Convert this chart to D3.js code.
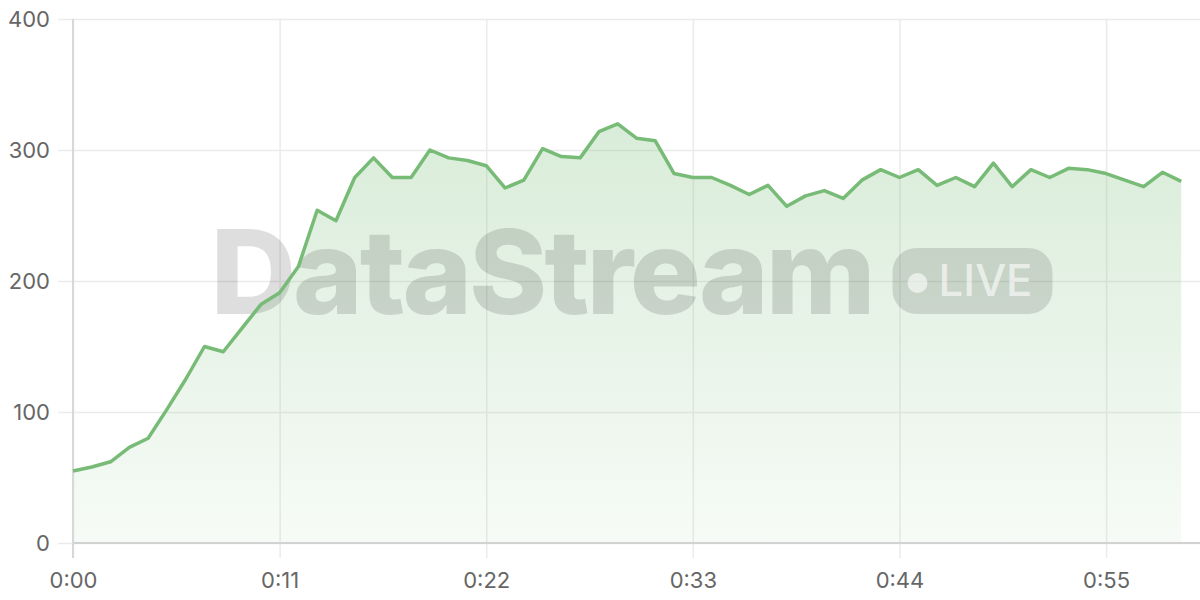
<!DOCTYPE html>
<html>
<head>
<meta charset="utf-8">
<script src="https://cdn.jsdelivr.net/npm/d3@7"></script>
<style>
  html, body { margin: 0; padding: 0; background: #fff; }
  #chart { width: 1200px; height: 600px; }
  .axis text { font-family: Inter, "Open Sans", sans-serif; font-size: 22px; fill: #666; }
</style>
</head>
<body>
<div id="chart"></div>
<script>
// Minutes elapsed and the measured value at each minute
const minutes = d3.range(0, 60);
const values = [
    55, 58, 62, 73, 80, 102, 125, 150, 146, 164,
    182, 191, 211, 254, 246, 279, 294, 279, 279, 300,
    294, 292, 288, 271, 277, 301, 295, 294, 314, 320,
    309, 307, 282, 279, 279, 273, 266, 273, 257, 265,
    269, 263, 277, 285, 279, 285, 273, 279, 272, 290,
    272, 285, 279, 286, 285, 282, 277, 272, 283, 276
];
const xTicks = [0, 11, 22, 33, 44, 55];
const yTicks = [0, 100, 200, 300, 400];

const W = 1200, H = 600;
const margin = {top: 19, right: 0, bottom: 57, left: 73};

const svg = d3.select('#chart')
    .append('svg')
    .attr('width', W)
    .attr('height', H);

const xScale = d3.scaleLinear()
    .domain([0, 60])
    .range([margin.left, W - margin.right]);

const yScale = d3.scaleLinear()
    .domain([0, 400])
    .range([H - margin.bottom, margin.top]);

const data = minutes.map((m, i) => ({m: m, v: values[i]}));

// Gradient for the area
const defs = svg.append('defs');
const grad = defs.append('linearGradient')
    .attr('id', 'fillGrad')
    .attr('x1', 0).attr('y1', 0).attr('x2', 0).attr('y2', 1);
grad.append('stop').attr('offset', '0%').attr('stop-color', '#77bb77').attr('stop-opacity', 0.28);
grad.append('stop').attr('offset', '100%').attr('stop-color', '#77bb77').attr('stop-opacity', 0.06);

// Horizontal grid + y labels
svg.append('g')
    .attr('class', 'axis')
    .attr('transform', `translate(${margin.left - 15},0)`)
    .call(d3.axisLeft(yScale)
        .tickValues(yTicks)
        .tickSize(-(W - margin.left + 15))
        .tickPadding(8))
    .call(g => g.select('.domain').remove())
    .call(g => g.selectAll('.tick line').attr('stroke', '#ebebeb').attr('stroke-width', 1.5));

// Vertical grid + x labels
svg.append('g')
    .attr('class', 'axis')
    .attr('transform', `translate(0,${margin.top})`)
    .call(d3.axisBottom(xScale)
        .tickValues(xTicks)
        .tickSize(H - margin.bottom - margin.top + 15)
        .tickPadding(14)
        .tickFormat(d => `0:${String(d).padStart(2, '0')}`))
    .call(g => g.select('.domain').remove())
    .call(g => g.selectAll('.tick line').attr('stroke', '#ebebeb').attr('stroke-width', 1.5));

// Area and line
const area = d3.area()
    .x(d => xScale(d.m))
    .y0(yScale(0))
    .y1(d => yScale(d.v));

const line = d3.line()
    .x(d => xScale(d.m))
    .y(d => yScale(d.v));

svg.append('path')
    .datum(data)
    .attr('d', area)
    .attr('fill', 'url(#fillGrad)');

// Axis lines
svg.append('line')
    .attr('x1', xScale(0)).attr('x2', W)
    .attr('y1', yScale(0)).attr('y2', yScale(0))
    .attr('stroke', '#d2d2d2').attr('stroke-width', 2);
svg.append('line')
    .attr('x1', xScale(0)).attr('x2', xScale(0))
    .attr('y1', yScale(400)).attr('y2', yScale(0) + 15)
    .attr('stroke', '#d8d8d8').attr('stroke-width', 2);

// Watermark
const cx = (xScale(0) + W) / 2 - 5;
const cy = (yScale(0) + yScale(400)) / 2;
const wm = svg.append('g').attr('pointer-events', 'none');

wm.append('text')
    .attr('x', cx - 421)
    .attr('y', cy + 33)
    .attr('textLength', 662)
    .attr('lengthAdjust', 'spacingAndGlyphs')
    .style('font-family', 'Inter, "Open Sans", sans-serif')
    .style('font-weight', 800)
    .style('font-size', '117px')
    .style('letter-spacing', '-3px')
    .attr('fill', 'rgba(0,0,0,0.13)')
    .text('DataStream');

const badge = wm.append('g').attr('transform', `translate(${cx + 261},${cy - 33})`);
badge.append('rect')
    .attr('width', 160).attr('height', 66)
    .attr('rx', 24).attr('ry', 24)
    .attr('fill', 'rgba(0,0,0,0.12)');
badge.append('circle')
    .attr('cx', 25).attr('cy', 35).attr('r', 10)
    .attr('fill', 'rgba(255,255,255,0.6)');
badge.append('text')
    .attr('x', 46).attr('y', 48)
    .attr('textLength', 94)
    .attr('lengthAdjust', 'spacingAndGlyphs')
    .style('font-family', 'Inter, "Open Sans", sans-serif')
    .style('font-weight', 500)
    .style('font-size', '44px')
    .attr('fill', 'rgba(255,255,255,0.6)')
    .text('LIVE');

svg.append('path')
    .datum(data)
    .attr('d', line)
    .attr('fill', 'none')
    .attr('stroke', '#77bb77')
    .attr('stroke-width', 3.5)
    .attr('stroke-linejoin', 'round');
</script>
</body>
</html>
